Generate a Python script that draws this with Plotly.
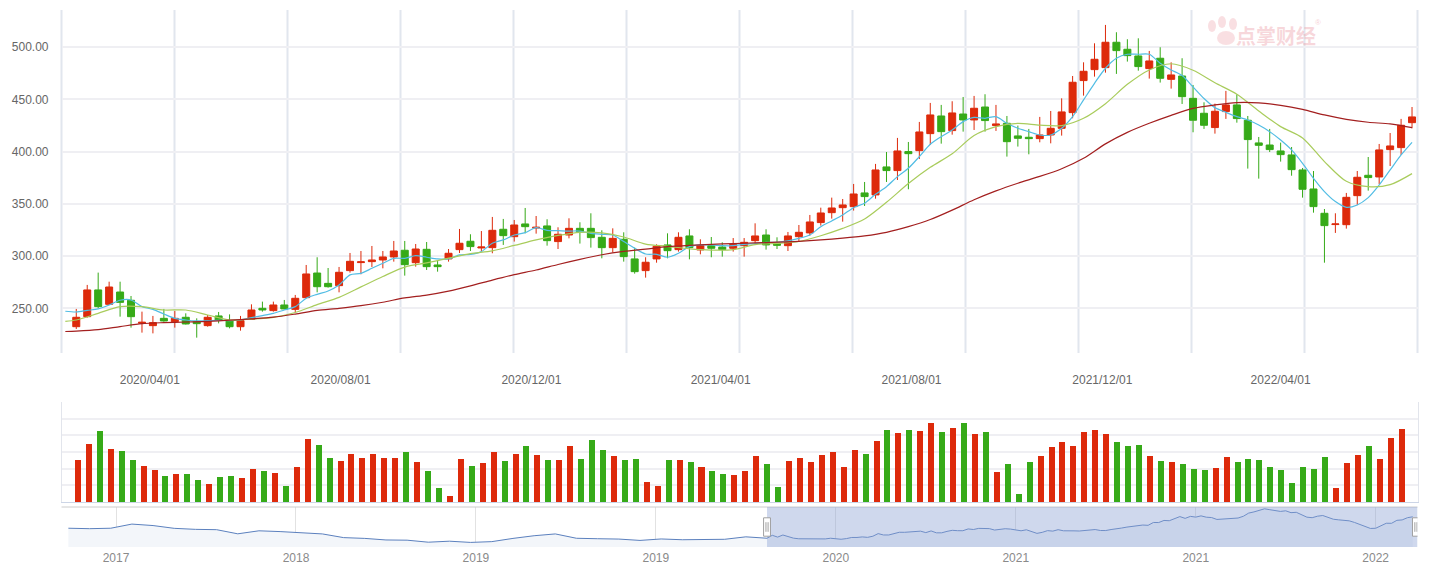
import numpy as np
import pandas as pd
import plotly.graph_objects as go

# ---------------- data ----------------
holiday_weeks = ["2022-02-04"]
weeks = pd.date_range("2020-02-14", periods=124, freq="7D")
weeks = weeks[~weeks.isin(pd.to_datetime(holiday_weeks))]
dates = weeks.strftime("%Y-%m-%d").tolist()

open_ = [232.4, 242.0, 267.6, 253.8, 265.6, 257.7, 235.8, 233.4, 240.4, 237.2,
         241.4, 237.2, 233.4, 242.7, 237.9, 232.4, 239.4, 250.0, 247.8, 253.2,
         249.0, 260.2, 283.8, 273.9, 271.7, 286.1, 293.8, 294.7, 296.3, 299.2,
         305.6, 293.7, 306.5, 291.5, 297.3, 306.2, 314.2, 307.8, 308.1, 325.7,
         318.6, 330.8, 326.9, 328.9, 313.9, 320.2, 326.6, 326.6, 318.0, 308.1,
         316.1, 297.3, 286.1, 297.3, 310.7, 306.2, 319.3, 305.9, 310.0, 308.7,
         307.5, 310.0, 314.8, 320.2, 312.0, 310.0, 318.6, 322.2, 332.1, 341.6,
         346.4, 347.4, 360.5, 358.6, 385.4, 381.9, 400.1, 401.0, 417.3, 434.2,
         420.2, 436.1, 430.4, 442.8, 425.0, 427.2, 415.1, 413.8, 412.5, 416.0,
         422.4, 437.4, 468.1, 478.6, 480.5, 504.8, 498.1, 491.7, 479.6, 489.5,
         469.3, 472.5, 451.1, 436.8, 423.1, 438.4, 444.8, 430.1, 408.4, 406.4,
         400.7, 396.9, 382.5, 364.3, 341.0, 330.2, 330.1, 357.9, 377.4, 375.8,
         402.0, 403.9, 427.8]
close = [241.4, 267.6, 251.6, 270.4, 255.7, 242.0, 236.6, 236.3, 237.9, 240.4,
         235.0, 235.3, 241.4, 238.5, 232.4, 238.2, 248.4, 248.4, 253.2, 249.4,
         259.6, 282.9, 270.7, 270.7, 284.5, 295.0, 294.5, 296.3, 299.2, 304.9,
         291.8, 306.8, 289.9, 289.9, 302.7, 312.3, 309.1, 308.7, 324.7, 319.6,
         329.8, 328.2, 327.6, 314.8, 320.9, 326.6, 323.4, 317.7, 308.1, 317.0,
         299.5, 285.1, 294.1, 309.4, 305.2, 318.0, 308.1, 310.0, 307.5, 306.2,
         311.3, 313.2, 319.3, 310.7, 310.3, 319.3, 322.8, 332.7, 341.3, 346.1,
         349.0, 359.5, 357.0, 382.5, 381.9, 400.7, 398.1, 418.9, 435.2, 419.2,
         437.1, 430.4, 441.6, 429.8, 426.6, 409.6, 412.8, 412.5, 416.0, 422.4,
         438.1, 466.5, 477.0, 488.5, 504.8, 496.8, 492.0, 481.5, 486.9, 470.3,
         473.5, 452.7, 430.1, 425.3, 438.7, 444.8, 431.7, 411.6, 406.1, 402.0,
         397.2, 382.8, 364.0, 347.4, 329.2, 330.8, 356.3, 375.5, 375.2, 401.7,
         405.5, 425.3, 433.3]
high = [249.4, 272.4, 284.2, 275.5, 275.5, 261.8, 246.8, 242.7, 249.4, 247.4,
        245.2, 240.4, 243.6, 246.5, 244.2, 242.7, 253.8, 256.4, 256.4, 258.0,
        262.8, 291.5, 298.9, 288.6, 289.6, 303.0, 304.9, 309.7, 304.9, 314.5,
        314.5, 311.6, 313.5, 296.3, 306.8, 326.0, 320.9, 324.0, 337.5, 335.6,
        334.6, 346.1, 338.4, 335.3, 327.6, 336.2, 332.4, 341.0, 324.7, 326.6,
        322.8, 308.1, 298.9, 311.3, 321.8, 322.8, 325.7, 316.1, 318.3, 313.2,
        317.3, 317.3, 331.4, 325.7, 318.0, 323.1, 329.8, 339.4, 346.4, 356.0,
        354.7, 369.1, 371.0, 388.3, 399.7, 413.2, 409.3, 428.5, 446.7, 444.8,
        448.3, 452.4, 453.4, 455.0, 444.8, 434.2, 425.0, 421.8, 433.3, 439.0,
        451.1, 472.5, 485.6, 503.8, 521.4, 514.4, 507.7, 508.6, 496.5, 500.0,
        485.6, 489.5, 463.9, 447.3, 446.0, 458.2, 455.0, 434.2, 414.1, 421.8,
        408.7, 404.5, 384.4, 381.5, 345.1, 341.0, 360.5, 381.5, 394.9, 407.4,
        417.9, 431.4, 442.8]
low = [230.2, 241.1, 250.0, 253.2, 242.0, 231.5, 226.7, 226.0, 237.2, 231.5,
       234.5, 221.9, 232.4, 235.6, 230.8, 228.6, 238.8, 246.8, 246.8, 249.0,
       246.2, 259.6, 265.3, 269.8, 265.3, 284.2, 282.6, 289.6, 288.3, 294.7,
       281.3, 289.9, 286.7, 285.1, 294.7, 303.0, 304.9, 304.3, 302.7, 310.7,
       313.9, 321.8, 321.5, 310.0, 306.8, 317.0, 312.0, 308.1, 297.9, 303.6,
       294.7, 283.2, 279.4, 293.7, 297.9, 304.3, 296.9, 301.7, 298.9, 299.5,
       304.3, 299.5, 312.6, 306.2, 306.8, 304.9, 313.9, 319.6, 329.2, 335.9,
       333.0, 343.6, 348.0, 355.0, 371.0, 372.9, 364.0, 393.0, 406.4, 407.7,
       416.3, 419.2, 420.8, 419.2, 419.9, 395.3, 404.9, 397.5, 409.0, 408.0,
       415.4, 432.0, 453.7, 471.9, 475.7, 474.5, 486.3, 477.6, 470.0, 466.2,
       460.4, 445.7, 418.6, 421.8, 417.3, 431.4, 427.8, 383.8, 374.2, 399.7,
       390.5, 377.0, 356.0, 341.6, 293.7, 322.2, 326.3, 349.0, 362.7, 368.8,
       386.3, 396.9, 422.4]
volume = [254, 350, 428, 320, 308, 254, 218, 194, 158, 170,
          170, 134, 110, 152, 158, 146, 200, 188, 176, 98,
          212, 380, 344, 266, 248, 290, 266, 290, 266, 266,
          302, 242, 188, 86, 38, 260, 218, 236, 302, 248,
          290, 338, 284, 254, 254, 338, 260, 374, 314, 278,
          254, 260, 122, 98, 254, 254, 242, 212, 188, 170,
          164, 188, 278, 230, 92, 248, 266, 242, 284, 302,
          212, 314, 290, 368, 434, 416, 434, 428, 476, 422,
          446, 476, 410, 422, 182, 230, 50, 242, 278, 332,
          362, 338, 422, 434, 410, 362, 338, 344, 278, 248,
          242, 230, 200, 194, 206, 272, 242, 260, 254, 212,
          194, 116, 212, 200, 272, 86, 236, 284, 338, 260,
          386, 440]

# moving averages (MA5 every week from the week before the
# first candle; MA10 / MA30 every second week, also starting the week before)
ma5 = [247.2,
       246.5, 248.0, 249.4, 253.2, 257.7, 258.0, 251.6, 249.0, 244.6, 240.4,
       238.8, 237.9, 238.2, 238.5, 238.2, 239.0, 241.0, 243.0, 245.2, 248.4,
       251.6, 259.6, 263.4, 266.6, 272.4, 282.0, 283.5, 288.3, 293.1, 297.9,
       297.9, 300.4, 298.9, 297.3, 297.3, 301.1, 301.7, 304.3, 312.3, 315.5,
       320.2, 322.5, 327.3, 324.7, 324.4, 324.0, 324.0, 321.8, 320.9, 320.2,
       313.9, 307.5, 302.0, 301.7, 298.9, 302.7, 309.1, 310.7, 310.7, 310.0,
       310.0, 311.3, 312.0, 313.2, 313.2, 314.5, 317.0, 320.2, 328.2, 333.7,
       339.4, 346.4, 350.6, 359.2, 366.5, 376.1, 384.1, 395.3, 407.1, 414.4,
       420.8, 428.8, 432.9, 432.0, 433.6, 427.2, 422.4, 419.2, 416.0, 416.0,
       422.4, 433.6, 449.6, 465.5, 479.9, 489.5, 493.3, 493.3, 493.3, 484.7,
       478.3, 472.9, 462.0, 451.0, 442.2, 437.7, 433.6, 430.4, 425.6, 419.2,
       411.2, 401.7, 388.9, 374.5, 361.8, 352.2, 346.7, 349.0, 356.0, 368.1,
       382.5, 396.9, 409.0]
ma10 = [237.5, 238.8, 245.2, 251.6, 251.6, 248.4, 248.4, 243.6, 238.8, 239.7,
        241.4, 246.0, 253.5, 260.5, 270.5, 280.5, 289.5, 293.5, 298.0, 302.3,
        305.0, 310.2, 315.5, 319.8, 322.8, 322.3, 318.3, 311.5, 309.4, 307.0,
        305.8, 306.2, 311.0, 312.2, 314.0, 319.5, 326.5, 335.5, 351.5, 369.5,
        385.0, 398.0, 415.5, 424.0, 427.2, 425.4, 425.0, 432.0, 446.0, 464.5,
        478.3, 484.2, 478.0, 466.0, 455.0, 439.0, 424.0, 413.2, 390.5, 371.6,
        366.5, 368.4, 379.0]
ma30 = [227.8, 228.2, 229.6, 232.5, 235.3, 236.3, 236.9, 237.5, 238.6, 239.9,
        241.5, 244.5, 248.0, 250.0, 252.5, 255.8, 260.0, 262.7, 266.5, 271.5,
        277.0, 282.2, 286.7, 292.0, 296.9, 301.3, 304.5, 306.7, 309.0, 310.3,
        311.2, 312.0, 312.6, 313.3, 314.2, 315.5, 317.2, 319.4, 322.8, 328.2,
        335.0, 344.0, 354.0, 362.5, 369.8, 376.3, 383.7, 393.7, 407.5, 418.5,
        427.2, 434.8, 441.5, 444.8, 447.0, 446.7, 444.4, 440.5, 435.2, 431.0,
        428.2, 426.6, 423.0]

# navigator: earlier history (one reading every 4 weeks), then the closes above
nav_hist = [331, 327, 331, 368, 355, 330, 321, 318, 281, 308, 301, 292, 280,
            247, 240, 226, 224, 206, 215, 204, 211, 240, 264, 280, 241, 237,
            234, 222, 235, 228, 228, 232, 254]
nav_hist_step = 4
nav_tick_labels = ["2017", "2018", "2019", "2019", "2020", "2021", "2021", "2022"]
nav_tick_every = 34
nav_tick_first = -123

label_dates = ["2020-04-01", "2020-08-01", "2020-12-01", "2021-04-01",
               "2021-08-01", "2021-12-01", "2022-04-01"]

# ---------------- derived ----------------
n = len(dates)
pos = np.arange(n)
date_ord = np.array([d.toordinal() for d in weeks])
label_pos = np.interp([pd.Timestamp(d).toordinal() for d in label_dates], date_ord, pos)
label_text = [d.replace("-", "/") for d in label_dates]

ma5_x = np.arange(-1, n)
ma_x = np.r_[-1, np.arange(0, n, 2)]

RED = "#dd2a0b"
GREEN = "#36aa18"
vol_colors = [RED if c >= o else GREEN for o, c in zip(open_, close)]

nav_x = np.r_[np.arange(-nav_hist_step * len(nav_hist), 0, nav_hist_step), pos]
nav_y = list(nav_hist) + list(close)
nav_tick_pos = np.arange(nav_tick_first, n, nav_tick_every)[:len(nav_tick_labels)]

# the page body has an 8px margin: size the figure to fill the window exactly
OFF = 8
W, H = 1435 - OFF, 572 - OFF
def px(x):
    return (x - OFF) / W
def py(y):
    return 1 - (y - OFF) / H

xdom = [px(61.5), px(1417.5)]

fig = go.Figure()
fig.add_trace(go.Candlestick(
    x=pos, open=open_, high=high, low=low, close=close,
    increasing=dict(line=dict(color=RED, width=1), fillcolor=RED),
    decreasing=dict(line=dict(color=GREEN, width=1), fillcolor=GREEN),
    whiskerwidth=0, showlegend=False, xaxis="x", yaxis="y",
    text=dates, hoverinfo="text+y"))
for xs, ys, col in [(ma5_x, ma5, "#52bde4"), (ma_x, ma10, "#a9cc5c"), (ma_x, ma30, "#a31f1f")]:
    fig.add_trace(go.Scatter(x=xs, y=ys, mode="lines",
                             line=dict(color=col, width=1.2, shape="spline", smoothing=0.8),
                             showlegend=False, hoverinfo="skip", xaxis="x", yaxis="y"))
fig.add_trace(go.Bar(x=pos[:len(volume)], y=volume, marker=dict(color=vol_colors, line=dict(width=0)),
                     width=0.55, showlegend=False, xaxis="x2", yaxis="y2"))
fig.add_trace(go.Scatter(x=nav_x, y=nav_y, mode="lines", line=dict(color="#5b80be", width=1),
                         fill="tozeroy", fillcolor="#f3f6fa", showlegend=False,
                         hoverinfo="skip", xaxis="x3", yaxis="y3"))

shapes = []
for k in range(13):
    shapes.append(dict(type="line", xref="x domain", yref="y domain", x0=k / 12, x1=k / 12,
                       y0=0, y1=1, line=dict(color="#e1e6ee", width=2), layer="below"))
shapes.append(dict(type="line", xref="x3 domain", yref="y3 domain", x0=0, x1=1, y0=1, y1=1,
                   line=dict(color="#cccccc", width=1)))
win0, win1 = pos[0], pos[-1] + 0.9
shapes.append(dict(type="rect", xref="x3", yref="y3 domain", x0=win0, x1=win1, y0=0, y1=1,
                   fillcolor="rgba(140,162,212,0.42)", line=dict(width=0), layer="above"))
for hx in (win0, win1 - 0.3):
    shapes.append(dict(type="rect", xref="x3", yref="y3 domain", x0=hx - 0.65, x1=hx + 0.65,
                       y0=0.27, y1=0.73, fillcolor="#ffffff", line=dict(color="#a0a0a0", width=1),
                       layer="above"))
    for dx in (-0.2, 0.2):
        shapes.append(dict(type="line", xref="x3", yref="y3 domain", x0=hx + dx, x1=hx + dx,
                           y0=0.38, y1=0.62, line=dict(color="#a0a0a0", width=1), layer="above"))

# watermark logo mark (a stylised hand), drawn in paper space
LOGO = "rgba(236,150,160,0.30)"
for cx, cy, rx, ry in [(1226, 38, 9, 7), (1212, 26, 4, 6), (1222, 22, 4, 6), (1233, 24, 4, 6)]:
    shapes.append(dict(type="circle", xref="paper", yref="paper",
                       x0=px(cx - rx), x1=px(cx + rx), y0=py(cy + ry), y1=py(cy - ry),
                       fillcolor=LOGO, line=dict(width=0), layer="above"))

axis_font = dict(family="Liberation Sans, Arial, sans-serif", size=12, color="#666666")
fig.update_layout(
    width=W, height=H, template="none", autosize=False,
    margin=dict(l=0, r=0, t=0, b=0),
    paper_bgcolor="white", plot_bgcolor="white",
    boxgap=0.36, boxgroupgap=0, bargap=0,
    showlegend=False, shapes=shapes,
    xaxis=dict(domain=xdom, range=[-1.35, 122.5], tickvals=label_pos, ticktext=label_text,
               showgrid=False, zeroline=False, showline=False, ticks="", tickfont=axis_font,
               ticklabelstandoff=18, rangeslider=dict(visible=False), automargin=False,
               fixedrange=True),
    yaxis=dict(domain=[py(353), py(10)], range=[207.2, 535.7], tick0=250, dtick=50,
               tickformat=".2f", showgrid=True, gridcolor="#efeff3", gridwidth=1.5,
               zeroline=False, showline=False, ticks="", tickfont=axis_font,
               ticklabelstandoff=12, automargin=False),
    xaxis2=dict(domain=xdom, range=[-1.46, 122.5], showticklabels=False, showgrid=False,
                zeroline=False, showline=True, linecolor="#ccd5e6", linewidth=1, ticks="",
                anchor="y2", automargin=False),
    yaxis2=dict(domain=[py(502), py(402)], range=[0, 600], dtick=100, showticklabels=False,
                showgrid=True, gridcolor="#efeff3", gridwidth=1.5, zeroline=False,
                showline=True, mirror=True, linecolor="#e2e5ec", ticks="", anchor="x2",
                automargin=False),
    xaxis3=dict(domain=xdom, range=[-133.3, 122.9], tickvals=nav_tick_pos, ticktext=nav_tick_labels,
                showgrid=True, gridcolor="#e2e2e2", gridwidth=1, zeroline=False, showline=False,
                ticks="", tickfont=dict(family="Liberation Sans, Arial, sans-serif", size=12,
                                        color="#8a8a8a"),
                ticklabelstandoff=2, anchor="y3", automargin=False),
    yaxis3=dict(domain=[py(547), py(507)], range=[163, 521], showticklabels=False,
                showgrid=False, zeroline=False, showline=False, anchor="x3", automargin=False),
    annotations=[
        dict(xref="paper", yref="paper", x=px(1276), y=py(36), xanchor="center", yanchor="middle",
             text="<b>点掌财经</b>", showarrow=False,
             font=dict(family="Noto Sans CJK SC", size=20, color="rgba(236,150,160,0.38)")),
        dict(xref="paper", yref="paper", x=px(1318), y=py(23), xanchor="center", yanchor="middle",
             text="®", showarrow=False,
             font=dict(family="Liberation Sans", size=8, color="rgba(236,150,160,0.45)")),
    ],
)

fig.write_html("out.html")
